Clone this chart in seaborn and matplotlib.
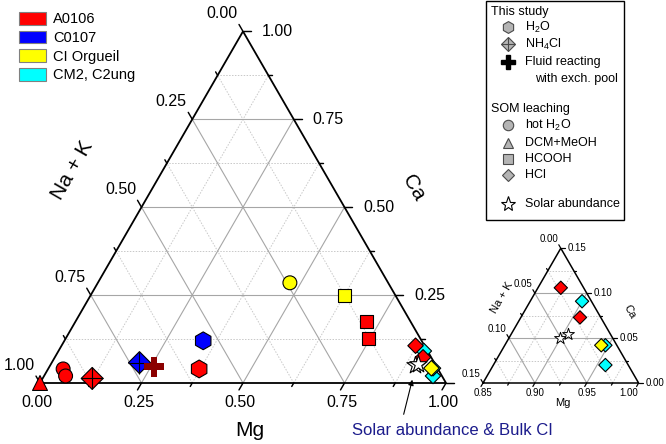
import numpy as np
import pandas as pd
import seaborn as sns
import matplotlib.pyplot as plt
from matplotlib.patches import Patch, Rectangle
from matplotlib.lines import Line2D

# cation fractions (Na+K = 1 - Mg - Ca)
sample = ["A0106", "A0106", "A0106", "A0106", "C0107", "C0107", "A0106",
          "CI Orgueil", "CI Orgueil", "A0106", "A0106",
          "CM2, C2ung", "CM2, C2ung", "CM2, C2ung", "CI Orgueil", "A0106", "A0106"]
method = ["DCM+MeOH", "hot H2O", "hot H2O", "NH4Cl", "NH4Cl", "H2O", "H2O",
          "hot H2O", "HCOOH", "HCOOH", "HCOOH",
          "HCl", "HCl", "HCl", "HCl", "HCl", "HCl"]
mg = [0.000, 0.037, 0.053, 0.122, 0.216, 0.342, 0.372,
      0.473, 0.625, 0.716, 0.746,
      0.958, 0.947, 0.900, 0.943, 0.907, 0.872]
ca = [0.000, 0.040, 0.020, 0.013, 0.058, 0.120, 0.040,
      0.285, 0.250, 0.174, 0.127,
      0.020, 0.042, 0.091, 0.042, 0.073, 0.106]

fluid_mg = [0.258]
fluid_ca = [0.046]
solar_mg = [0.899, 0.905]
solar_ca = [0.050, 0.054]

sample_colors = {"A0106": "#ff0000", "C0107": "#0000ff",
                 "CI Orgueil": "#ffff00", "CM2, C2ung": "#00ffff"}
markers = {"H2O": "h", "NH4Cl": "D", "hot H2O": "o", "DCM+MeOH": "^",
           "HCOOH": "s", "HCl": "D"}
sizes_main = {"H2O": 165, "NH4Cl": 125, "hot H2O": 100, "DCM+MeOH": 115,
              "HCOOH": 88, "HCl": 62}

main_ticks = [0.00, 0.25, 0.50, 0.75, 1.00]
inset_mg_ticks = [0.85, 0.90, 0.95, 1.00]
inset_frac_ticks = [0.00, 0.05, 0.10, 0.15]

W, H = 666, 444
S3 = np.sqrt(3) / 2

sns.set_style("white")
plt.rcParams["font.family"] = ["Liberation Sans", "DejaVu Sans"]
plt.rcParams["text.color"] = "black"
plt.rcParams["mathtext.fontset"] = "custom"
plt.rcParams["mathtext.rm"] = "Liberation Sans"


def to_xy(m, c):
    m = np.asarray(m, dtype=float)
    c = np.asarray(c, dtype=float)
    return m + c / 2, c * S3


def make_axes(fig, x0, y0, px):
    ax = fig.add_axes([0, 0, 1, 1])
    ax.set_xlim(-x0 / px, (W - x0) / px)
    ax.set_ylim(-y0 / px, (H - y0) / px)
    ax.axis("off")
    return ax


def frame(ax, major, minor, tick_big, tick_small, lw):
    for levels, kw in [(minor, dict(color="#c8c8c8", lw=0.7, ls=(0, (1.5, 1.5)))),
                       (major, dict(color="#a6a6a6", lw=0.8, ls="-"))]:
        for v in levels:
            for a, b in [((v, 0), (v, 1 - v)), ((1 - v, v), (0, v)), ((1 - v, 0), (0, 1 - v))]:
                x, y = to_xy([a[0], b[0]], [a[1], b[1]])
                ax.plot(x, y, zorder=1, **kw)
    x, y = to_xy([0, 1, 0, 0], [0, 0, 1, 0])
    ax.plot(x, y, color="black", lw=lw, zorder=2, solid_joinstyle="miter")
    all_major = [0.0] + list(major) + [1.0]
    for levels, ln in [(all_major, tick_big), (minor, tick_small)]:
        for v in levels:
            x, y = to_xy(v, 0)
            ax.plot([x, x - 0.5 * ln], [y, y - S3 * ln], color="black", lw=lw * 0.8)
            x, y = to_xy(1 - v, v)
            ax.plot([x, x + ln], [y, y], color="black", lw=lw * 0.8)
            x, y = to_xy(0, 1 - v)
            ax.plot([x, x - 0.5 * ln], [y, y + S3 * ln], color="black", lw=lw * 0.8)


fig = plt.figure(figsize=(W / 100, H / 100), dpi=100)

# ---------------- main triangle ----------------
px = 406
ax = make_axes(fig, 40, 61, px)
d = 1 / px
frame(ax, [0.25, 0.5, 0.75], [0.125, 0.375, 0.625, 0.875], 8 * d, 4 * d, 1.3)

for v in main_ticks:
    x, y = to_xy(v, 0)
    ax.text(x - 3 * d, y - 19 * d, f"{v:.2f}", ha="center", va="center", fontsize=11.5)
    x, y = to_xy(0, 1 - v)
    ax.text(x - 21 * d, y + 18 * d, f"{v:.2f}", ha="center", va="center", fontsize=11.5)
for v in main_ticks[1:]:
    x, y = to_xy(1 - v, v)
    ax.text(x + 19 * d, y, f"{v:.2f}", ha="left", va="center", fontsize=11.5)

ax.text(0.079, 0.525, "Na + K", rotation=60, ha="center", va="center", fontsize=15)
ax.text(0.919, 0.480, "Ca", rotation=-60, ha="center", va="center", fontsize=15)
ax.text(0.517, -0.116, "Mg", ha="center", va="center", fontsize=15)

df = pd.DataFrame({"sample": sample, "method": method, "mg": mg, "ca": ca})
df["x"], df["y"] = to_xy(df["mg"], df["ca"])

sns.scatterplot(data=df, x="x", y="y", hue="sample", style="method", size="method",
                palette=sample_colors, markers=markers, sizes=sizes_main,
                edgecolor="black", linewidth=0.8, legend=False, ax=ax, zorder=3)
nh4 = df[df["method"] == "NH4Cl"]
sns.scatterplot(x=nh4["x"], y=nh4["y"], marker="+", s=250, color="black",
                linewidth=0.8, legend=False, ax=ax, zorder=4)
fx, fy = to_xy(fluid_mg, fluid_ca)
sns.scatterplot(x=fx, y=fy, marker="P", s=210, color="#8b0000", edgecolor="none",
                legend=False, ax=ax, zorder=4)
sx, sy = to_xy(solar_mg, solar_ca)
sns.scatterplot(x=sx, y=sy, marker="*", s=170, color="white", edgecolor="black",
                linewidth=0.8, legend=False, ax=ax, zorder=5)
ax.set_xlabel("")
ax.set_ylabel("")

# ---------------- inset (Mg corner) ----------------
pin = 155.6
axi = make_axes(fig, 483, 61, pin)
di = 1 / pin
frame(axi, [1 / 3, 2 / 3], [1 / 6, 0.5, 5 / 6], 4 * di, 2.5 * di, 1.1)

for i, m in enumerate(inset_mg_ticks):
    x, y = to_xy((m - 0.85) / 0.15, 0)
    shift = -10 * di if i == len(inset_mg_ticks) - 1 else 0
    axi.text(x + shift, y - 10 * di, f"{m:.2f}", ha="center", va="center", fontsize=7)
for c in inset_frac_ticks:
    v = c / 0.15
    x, y = to_xy(1 - v, v)
    axi.text(x + 7 * di, y, f"{c:.2f}", ha="left", va="center", fontsize=7)
    x, y = to_xy(0, 1 - v)
    axi.text(x - 12 * di, y + 9.5 * di, f"{c:.2f}", ha="center", va="center", fontsize=7)

axi.text(0.120, 0.546, "Na + K", rotation=60, ha="center", va="center", fontsize=8)
axi.text(0.945, 0.458, "Ca", rotation=-60, ha="center", va="center", fontsize=8)
axi.text(0.516, -0.130, "Mg", ha="center", va="center", fontsize=8)

nk = 1 - df["mg"] - df["ca"]
din = df[(df["mg"] >= 0.85) & (df["ca"] <= 0.15) & (nk <= 0.15)].copy()
din["x"], din["y"] = to_xy((din["mg"] - 0.85) / 0.15, din["ca"] / 0.15)
sns.scatterplot(data=din, x="x", y="y", hue="sample", palette=sample_colors,
                marker="D", s=46, edgecolor="black", linewidth=0.8,
                legend=False, ax=axi, zorder=3)
ix, iy = to_xy((np.array(solar_mg) - 0.85) / 0.15, np.array(solar_ca) / 0.15)
sns.scatterplot(x=ix, y=iy, marker="*", s=80, color="white", edgecolor="black",
                linewidth=0.7, legend=False, ax=axi, zorder=4)
axi.set_xlabel("")
axi.set_ylabel("")

# ---------------- annotation ----------------
ax.annotate("", xy=(413, H - 377), xycoords="figure pixels",
            xytext=(403, H - 417), textcoords="figure pixels",
            arrowprops=dict(arrowstyle="-|>", color="black", lw=0.8, mutation_scale=8))
fig.text(452 / W, 1 - 430 / H, "Solar abundance & Bulk CI", color="#1c1c8c",
         fontsize=12, ha="center", va="center")

# ---------------- sample legend ----------------
handles = [Patch(facecolor=c, edgecolor="#808080", lw=0.8, label=k) for k, c in sample_colors.items()]
fig.legend(handles=handles, loc="upper left", bbox_to_anchor=(19 / W, 1 - 12 / H),
           frameon=False, borderpad=0, borderaxespad=0, handlelength=1.85,
           handleheight=0.95, handletextpad=0.5, labelspacing=0.3, fontsize=10.5,
           labelcolor="black")

# ---------------- method legend ----------------
fig.add_artist(Rectangle((486 / W, 1 - 220 / H), 138 / W, 219 / H, transform=fig.transFigure,
                         facecolor="white", edgecolor="black", lw=1))


def fxy(x, y):
    return x / W, 1 - y / H


gray = dict(markerfacecolor="#b4b4b4", markeredgecolor="#4a4a4a", markeredgewidth=0.8,
            linestyle="none")
entries = [
    (27, dict(marker="h", markersize=8.5, **gray), "H$_2$O"),
    (44, dict(marker="D", markersize=7, **gray), "NH$_4$Cl"),
    (62, dict(marker="P", markersize=10, markerfacecolor="black", markeredgecolor="black",
              linestyle="none"), "Fluid reacting"),
    (125, dict(marker="o", markersize=7.5, **gray), "hot H$_2$O"),
    (143, dict(marker="^", markersize=7.5, **gray), "DCM+MeOH"),
    (159, dict(marker="s", markersize=6.5, **gray), "HCOOH"),
    (175, dict(marker="D", markersize=6, **gray), "HCl"),
    (204, dict(marker="*", markersize=11, markerfacecolor="white", markeredgecolor="black",
               markeredgewidth=0.8, linestyle="none"), "Solar abundance"),
]
for yy, kw, label in entries:
    x, y = fxy(508, yy)
    fig.add_artist(Line2D([x], [y], transform=fig.transFigure, **kw))
    tx, ty = fxy(525, yy)
    fig.text(tx, ty, label, fontsize=9, ha="left", va="center")
x, y = fxy(508, 44)
fig.add_artist(Line2D([x], [y], transform=fig.transFigure, marker="+", markersize=10,
                      markeredgecolor="#4a4a4a", markeredgewidth=0.8, linestyle="none"))
for yy, label in [(12, "This study"), (109, "SOM leaching")]:
    tx, ty = fxy(491, yy)
    fig.text(tx, ty, label, fontsize=9, ha="left", va="center")
tx, ty = fxy(535, 79)
fig.text(tx, ty, "with exch. pool", fontsize=9, ha="left", va="center")

fig.savefig("out.png", dpi=100)
